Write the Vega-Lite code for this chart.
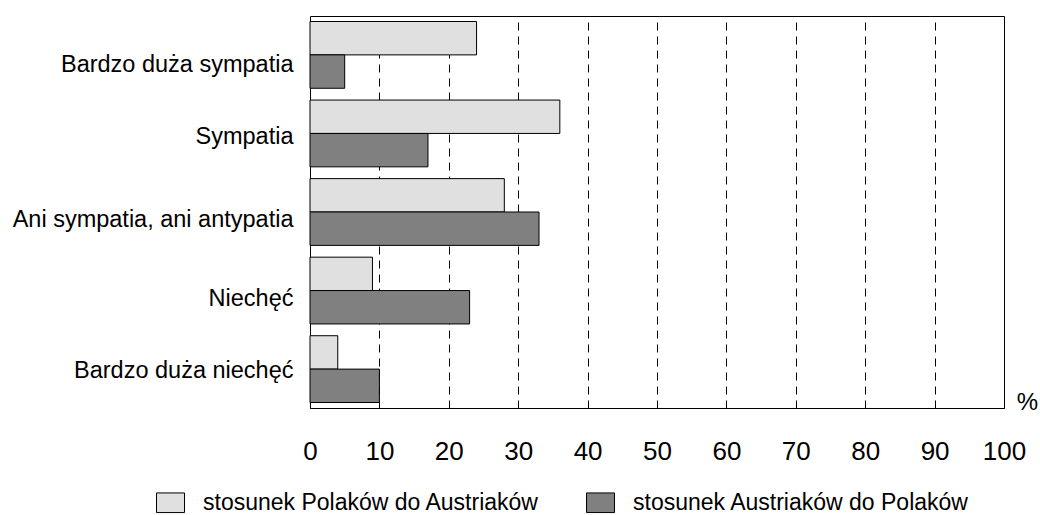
{
  "$schema": "https://vega.github.io/schema/vega-lite/v6.json",
  "description": "Wzajemny stosunek Polaków i Austriaków (%).",
  "autosize": {"type": "none"},
  "width": 694,
  "height": 392,
  "padding": {"left": 310, "top": 16, "right": 36, "bottom": 107},
  "data": {
    "values": [
      {"postawa": "Bardzo duża sympatia", "grupa": "stosunek Polaków do Austriaków", "procent": 24},
      {"postawa": "Bardzo duża sympatia", "grupa": "stosunek Austriaków do Polaków", "procent": 5},
      {"postawa": "Sympatia", "grupa": "stosunek Polaków do Austriaków", "procent": 36},
      {"postawa": "Sympatia", "grupa": "stosunek Austriaków do Polaków", "procent": 17},
      {"postawa": "Ani sympatia, ani antypatia", "grupa": "stosunek Polaków do Austriaków", "procent": 28},
      {"postawa": "Ani sympatia, ani antypatia", "grupa": "stosunek Austriaków do Polaków", "procent": 33},
      {"postawa": "Niechęć", "grupa": "stosunek Polaków do Austriaków", "procent": 9},
      {"postawa": "Niechęć", "grupa": "stosunek Austriaków do Polaków", "procent": 23},
      {"postawa": "Bardzo duża niechęć", "grupa": "stosunek Polaków do Austriaków", "procent": 4},
      {"postawa": "Bardzo duża niechęć", "grupa": "stosunek Austriaków do Polaków", "procent": 10}
    ]
  },
  "mark": {"type": "bar", "stroke": "black", "strokeWidth": 1, "opacity": 1},
  "encoding": {
    "y": {
      "field": "postawa",
      "type": "nominal",
      "sort": ["Bardzo duża sympatia", "Sympatia", "Ani sympatia, ani antypatia", "Niechęć", "Bardzo duża niechęć"],
      "scale": {"paddingInner": 0.15, "paddingOuter": 0.07},
      "axis": {
        "title": null,
        "domain": false,
        "ticks": false,
        "labelFontSize": 23.5,
        "labelPadding": 17,
        "labelOffset": {
          "condition": [
            {"test": "datum.value === 'Bardzo duża sympatia'", "value": 10},
            {"test": "datum.value === 'Sympatia'", "value": 4},
            {"test": "datum.value === 'Bardzo duża niechęć'", "value": 2}
          ],
          "value": 8
        },
        "labelLimit": 0,
        "labelColor": "black"
      }
    },
    "yOffset": {
      "field": "grupa",
      "type": "nominal",
      "sort": ["stosunek Polaków do Austriaków", "stosunek Austriaków do Polaków"],
      "scale": {"paddingInner": 0, "paddingOuter": 0}
    },
    "x": {
      "field": "procent",
      "type": "quantitative",
      "scale": {"domain": [0, 100], "nice": false},
      "axis": {
        "values": [0, 10, 20, 30, 40, 50, 60, 70, 80, 90, 100],
        "title": "%",
        "titleX": 717,
        "titleY": -6,
        "titleAlign": "center",
        "titleBaseline": "middle",
        "titleFontSize": 24,
        "titleFontWeight": "normal",
        "titleColor": "black",
        "domain": false,
        "ticks": false,
        "labelFontSize": 26,
        "labelPadding": 30,
        "labelColor": "black",
        "labelFlush": false,
        "grid": true,
        "gridColor": "black",
        "gridDash": [8, 6],
        "gridWidth": 1,
        "gridOpacity": 1
      }
    },
    "color": {
      "field": "grupa",
      "type": "nominal",
      "sort": ["stosunek Polaków do Austriaków", "stosunek Austriaków do Polaków"],
      "scale": {"range": ["#e0e0e0", "#808080"]},
      "legend": {
        "title": null,
        "orient": "none",
        "direction": "horizontal",
        "legendX": -154,
        "legendY": 472,
        "padding": 0,
        "symbolType": "M-1,-0.7L1,-0.7L1,0.7L-1,0.7Z",
        "symbolSize": 784,
        "symbolStrokeColor": "black",
        "symbolStrokeWidth": 1,
        "symbolOpacity": 1,
        "labelFontSize": 23,
        "labelOffset": 18,
        "labelLimit": 0,
        "labelColor": "black",
        "columnPadding": 44
      }
    }
  },
  "config": {
    "font": "Liberation Sans",
    "view": {"stroke": "black", "strokeWidth": 1},
    "axis": {"labelFont": "Liberation Sans", "titleFont": "Liberation Sans"},
    "legend": {"labelFont": "Liberation Sans"}
  }
}
